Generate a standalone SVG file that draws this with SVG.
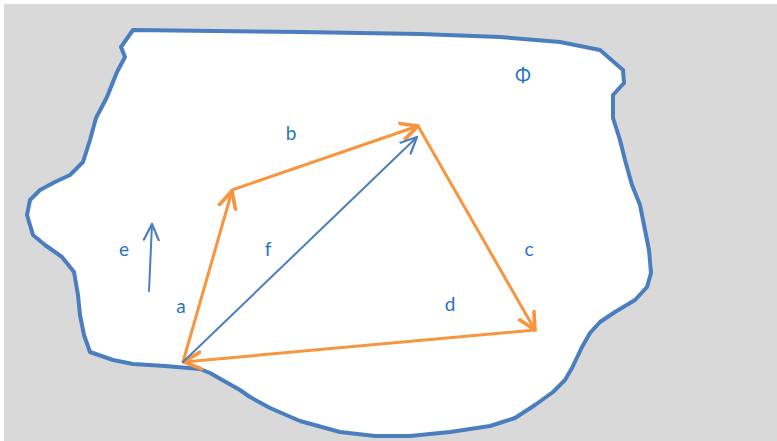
<svg xmlns="http://www.w3.org/2000/svg" width="777" height="441" viewBox="0 0 777 441">
<style>
.lbl{font-family:Lato,"Open Sans","Liberation Sans",sans-serif;font-size:19px;fill:#1f73c4;text-anchor:middle}
.vec{stroke:#f7963f;stroke-width:3;fill:none;stroke-linecap:round}
.bvec{stroke:#4a7ebf;stroke-width:2;fill:none;stroke-linecap:round}
</style>
<defs>
<marker id="oh" markerUnits="userSpaceOnUse" markerWidth="21" markerHeight="21" refX="17" refY="10" orient="auto" viewBox="0 0 20 20">
<path d="M1,2 L17,10 L1,18" fill="none" stroke="#f7963f" stroke-width="3.5" stroke-linecap="round" stroke-linejoin="round"/>
</marker>
<marker id="bh" markerUnits="userSpaceOnUse" markerWidth="20" markerHeight="20" refX="17" refY="10" orient="auto" viewBox="0 0 20 20">
<path d="M1,2.5 L17,10 L1,17.5" fill="none" stroke="#4a7ebf" stroke-width="2.2" stroke-linecap="round" stroke-linejoin="round"/>
</marker>
</defs>
<rect x="0" y="0" width="777" height="441" fill="#ffffff"/>
<rect x="4" y="4" width="773" height="437" fill="#d9d9d9"/>
<g id="region">
<path d="M133,30 L300,32 L420,34 L500,37 L560,42 L600,50 L623,70 L624,83 L613,95 L613,118 L620,140 L625,160 L632,185 L640,205 L645,230 L649,250 L651,273 L647,287 L635,300 L615,312 L600,322 L590,333 L582,347 L572,368 L565,380 L553,392 L535,405 L515,418 L490,426 L450,432 L410,436 L375,436 L340,432 L300,421 L270,408 L250,397 L240,390 L210,373 L200,369 L165,366 L133,364 L113,360 L90,352 L84,335 L80,315 L78,295 L74,272 L62,257 L45,245 L33,235 L27,215 L30,200 L40,190 L55,182 L70,175 L83,162 L90,140 L96,118 L107,97 L117,72 L125,57 L121,47 Z" fill="#ffffff" stroke="#4a7ebf" stroke-width="4" stroke-linejoin="round"/>
</g>
<g id="connectors">
<line id="vec-a" class="vec" x1="183" y1="362" x2="232" y2="191" marker-end="url(#oh)"/>
<line id="vec-b" class="vec" x1="232" y1="190" x2="418" y2="126" marker-end="url(#oh)"/>
<line id="vec-c" class="vec" x1="418" y1="126" x2="535" y2="330" marker-end="url(#oh)"/>
<line id="vec-d" class="vec" x1="535" y1="330" x2="184" y2="362" marker-end="url(#oh)"/>
<line id="vec-f" class="bvec" x1="183" y1="362" x2="417" y2="137" marker-end="url(#bh)"/>
<line id="vec-e" class="bvec" x1="149" y1="291" x2="152" y2="224" marker-end="url(#bh)"/>
</g>
<g id="labels">
<text class="lbl" x="291" y="140">b</text>
<text class="lbl" x="268" y="256">f</text>
<text class="lbl" x="124" y="256">e</text>
<text class="lbl" x="181" y="313">a</text>
<text class="lbl" x="529" y="256">c</text>
<text class="lbl" x="450" y="311">d</text>
<text class="lbl" x="523" y="82">Φ</text>
</g>
</svg>
